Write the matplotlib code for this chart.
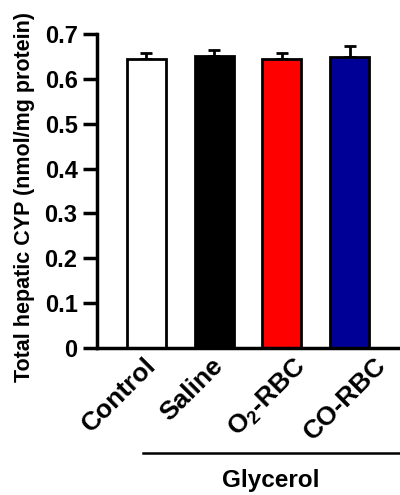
import numpy as np
import matplotlib
matplotlib.use('Agg')
import matplotlib.pyplot as plt
import matplotlib.transforms as mtransforms

plt.rcParams['font.family'] = ['Liberation Sans', 'DejaVu Sans']
plt.rcParams['font.weight'] = 'bold'
plt.rcParams['mathtext.fontset'] = 'custom'
plt.rcParams['mathtext.rm'] = 'Liberation Sans:bold'
plt.rcParams['mathtext.bf'] = 'Liberation Sans:bold'
plt.rcParams['mathtext.default'] = 'bf'

# data
groups = ['Control', 'Saline', 'O$_2$-RBC', 'CO-RBC']
means = [0.645, 0.652, 0.645, 0.649]
errors = [0.014, 0.012, 0.014, 0.024]
colors = ['white', 'black', '#ff0000', '#000096']
yticks = [0, 0.1, 0.2, 0.3, 0.4, 0.5, 0.6, 0.7]

# horizontal nudge of each category label (pixels)
label_shift = [-3, -3, 12, 24]

fig = plt.figure(figsize=(4.0, 4.95), dpi=100)
ax = fig.add_axes([0.2425, 0.297, 0.755, 0.634])

x = np.arange(len(groups))
ax.bar(x, means, width=0.58, color=colors, edgecolor='black', linewidth=2, zorder=2)
ax.errorbar(x, means, yerr=[np.zeros(len(errors)), errors], fmt='none',
	ecolor='black', elinewidth=2, capsize=4.5, capthick=2, zorder=1)

ax.set_xlim(-0.73, 3.73)
ax.set_ylim(0, 0.7)
ax.set_yticks(yticks)
ax.set_yticklabels(['0' if v == 0 else '%.1f' % v for v in yticks], fontsize=17, fontweight='bold')
ax.set_xticks(x)
ax.set_xticklabels(groups, rotation=45, ha='right', rotation_mode='anchor',
	fontsize=19, fontweight='bold')
ax.tick_params(axis='x', length=0, pad=4)
ax.tick_params(axis='y', length=10, width=2.5, direction='out', pad=4)

for lab, dx in zip(ax.get_xticklabels(), label_shift):
	lab.set_transform(lab.get_transform() + mtransforms.ScaledTranslation(dx / 100, 0, fig.dpi_scale_trans))

for s in ['top', 'right']:
	ax.spines[s].set_visible(False)
for s in ['left', 'bottom']:
	ax.spines[s].set_linewidth(2.5)
ax.spines['left'].set_bounds(0, 0.7)

ax.set_ylabel('Total hepatic CYP (nmol/mg protein)', fontsize=15.5, fontweight='bold')
ax.yaxis.set_label_coords(-0.205, 0.48)

# glycerol bracket
fig.add_artist(plt.Line2D([143 / 400, 1.0], [1 - 452.5 / 495, 1 - 452.5 / 495],
	color='black', linewidth=1.8, transform=fig.transFigure))
fig.text(271 / 400, 1 - 480 / 495, 'Glycerol', ha='center', va='center',
	fontsize=17.5, fontweight='bold')

fig.savefig('out.png', dpi=100)
